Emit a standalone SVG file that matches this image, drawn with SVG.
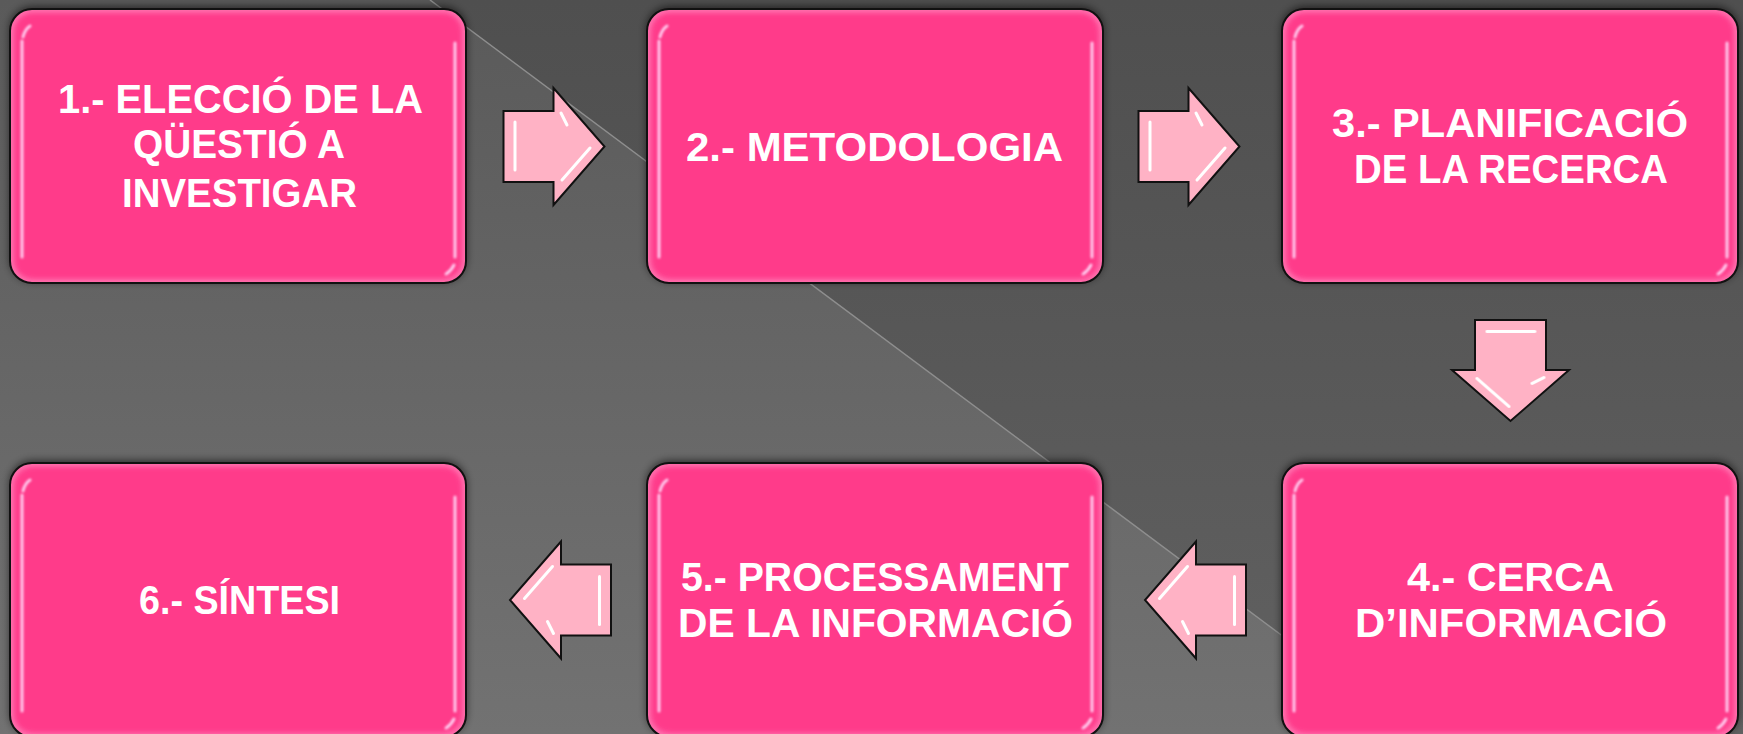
<svg xmlns="http://www.w3.org/2000/svg" xmlns:xlink="http://www.w3.org/1999/xlink" width="1743" height="734" viewBox="0 0 1743 734">
<style>
.lbl{font-family:"Liberation Sans",Arial,sans-serif;font-weight:700;font-size:40px;fill:#ffffff;text-anchor:middle}
.arr{fill:#ffb2c5;stroke:#111;stroke-width:2;stroke-linejoin:miter}
.ahl{fill:none;stroke:#ffffff;stroke-width:3;stroke-linecap:round;filter:url(#soft)}
.bhl{fill:none;stroke:#ffc8ec;stroke-width:3;stroke-linecap:round;filter:url(#soft2)}
</style>
<defs>
<linearGradient id="bgL" x1="0" y1="0" x2="0" y2="1">
<stop offset="0" stop-color="#5a5a5a"/><stop offset="1" stop-color="#727272"/>
</linearGradient>
<linearGradient id="bgR" x1="0" y1="0" x2="0" y2="1">
<stop offset="0" stop-color="#4f4f4f"/><stop offset="1" stop-color="#616161"/>
</linearGradient>
<filter id="shadow" x="-10%" y="-15%" width="120%" height="130%">
<feDropShadow dx="0" dy="-2" stdDeviation="4" flood-color="#000" flood-opacity="0.65"/>
</filter>
<filter id="glow" x="-5%" y="-5%" width="110%" height="110%">
<feGaussianBlur stdDeviation="2.5"/>
</filter>
<filter id="soft" filterUnits="userSpaceOnUse" x="-2000" y="-2000" width="6000" height="6000">
<feGaussianBlur stdDeviation="0.7"/>
</filter>
<filter id="soft2" filterUnits="userSpaceOnUse" x="-2000" y="-2000" width="6000" height="6000">
<feGaussianBlur stdDeviation="1"/>
</filter>
<g id="boxShape">
<rect x="0" y="0" width="456" height="274" rx="22" fill="#ff6fae" filter="url(#shadow)"/>
<rect x="4" y="4" width="448" height="266" rx="19" fill="#ff3a8a" filter="url(#glow)"/>
<path class="bhl" d="M12,32 L12,248"/>
<path class="bhl" d="M13,28 Q15,20 20,17"/>
<path class="bhl" d="M445,34 L445,248"/>
<path class="bhl" d="M444,256 Q441,262 436,265"/>
<rect x="0" y="0" width="456" height="274" rx="22" fill="none" stroke="#111" stroke-width="2"/>
</g>
<g id="arrowShape">
<polygon class="arr" points="-50,-35.5 0,-35.5 0,-58.5 51,0 0,58.5 0,35.5 -50,35.5"/>
<path class="ahl" d="M-38.5,-24.5 L-38.5,23.5"/>
<path class="ahl" d="M36.5,1.5 L8.5,33.5"/>
<path class="ahl" d="M7.5,-33.5 L13.5,-21.5"/>
</g>
</defs>
<rect x="0" y="0" width="1743" height="734" fill="url(#bgL)"/>
<polygon points="430,0 1743,0 1743,734 1414,734" fill="url(#bgR)"/>
<line x1="430" y1="0" x2="1414" y2="734" stroke="#8e8e8e" stroke-width="1.5"/>

<g id="connectors">
<use xlink:href="#arrowShape" transform="translate(553.5,146.5)"/>
<use xlink:href="#arrowShape" transform="translate(1188.5,146.5)"/>
<use xlink:href="#arrowShape" transform="translate(1510.5,370) rotate(90)"/>
<use xlink:href="#arrowShape" transform="translate(1196,600) rotate(180)"/>
<use xlink:href="#arrowShape" transform="translate(561,600) rotate(180)"/>
</g>

<g id="node1">
<use xlink:href="#boxShape" x="10" y="9"/>
<text class="lbl" x="240.5" y="113" textLength="365" lengthAdjust="spacingAndGlyphs">1.- ELECCIÓ DE LA</text>
<text class="lbl" x="239" y="158" textLength="212" lengthAdjust="spacingAndGlyphs">QÜESTIÓ A</text>
<text class="lbl" x="239.5" y="207" textLength="235" lengthAdjust="spacingAndGlyphs">INVESTIGAR</text>
</g>
<g id="node2">
<use xlink:href="#boxShape" x="647" y="9"/>
<text class="lbl" x="874.5" y="161" textLength="377" lengthAdjust="spacingAndGlyphs">2.- METODOLOGIA</text>
</g>
<g id="node3">
<use xlink:href="#boxShape" x="1282" y="9"/>
<text class="lbl" x="1510" y="137" textLength="356" lengthAdjust="spacingAndGlyphs">3.- PLANIFICACIÓ</text>
<text class="lbl" x="1511" y="183" textLength="314" lengthAdjust="spacingAndGlyphs">DE LA RECERCA</text>
</g>
<g id="node4">
<use xlink:href="#boxShape" x="1282" y="463"/>
<text class="lbl" x="1510.5" y="591" textLength="207" lengthAdjust="spacingAndGlyphs">4.- CERCA</text>
<text class="lbl" x="1511" y="637" textLength="312" lengthAdjust="spacingAndGlyphs">D’INFORMACIÓ</text>
</g>
<g id="node5">
<use xlink:href="#boxShape" x="647" y="463"/>
<text class="lbl" x="875" y="591" textLength="388" lengthAdjust="spacingAndGlyphs">5.- PROCESSAMENT</text>
<text class="lbl" x="875.5" y="637" textLength="395" lengthAdjust="spacingAndGlyphs">DE LA INFORMACIÓ</text>
</g>
<g id="node6">
<use xlink:href="#boxShape" x="10" y="463"/>
<text class="lbl" x="239.5" y="614" textLength="201" lengthAdjust="spacingAndGlyphs">6.- SÍNTESI</text>
</g>
</svg>
